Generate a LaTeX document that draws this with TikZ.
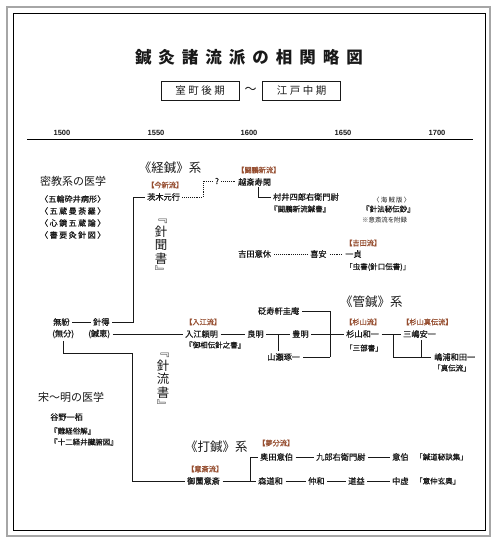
\documentclass[tikz,border=0pt]{standalone}
\usepackage{fontspec}
\newfontfamily\cjk{Noto Sans CJK JP}
\newfontfamily\cjkm[FakeBold=0.6]{Noto Sans CJK JP}
\newfontfamily\ars{Liberation Sans}
\usetikzlibrary{calc}
\definecolor{labc}{RGB}{150,78,48}
\definecolor{ink}{RGB}{25,25,25}
\begin{document}
\begin{tikzpicture}[x=1pt,y=-1pt,
  every node/.style={inner sep=0pt, text=ink, font=\cjk},
  nm/.style={anchor=west, font=\cjkm\fontsize{8.2}{9}\selectfont},
  lab/.style={anchor=west, text=labc, font=\cjkm\fontsize{7.2}{8}\selectfont},
  bk/.style={anchor=west, font=\cjkm\fontsize{7.5}{8}\selectfont},
  sm/.style={anchor=west, font=\cjk\fontsize{6.4}{7}\selectfont},
  sys/.style={anchor=west, font=\cjk\fontsize{12.5}{14}\selectfont},
  hd/.style={anchor=west, font=\cjk\fontsize{11}{12}\selectfont},
  yr/.style={font=\ars\bfseries\fontsize{7.5}{8}\selectfont},
  vt/.style={align=center, font=\cjk\fontsize{12.5}{13.6}\selectfont},
  per/.style={draw=ink, line width=0.8pt, minimum width=78pt, minimum height=19pt, font=\cjk\fontsize{10.5}{12}\selectfont},
  wire/.style={draw=ink, line width=0.6pt},
  ln/.style={wire, shorten <=2.5pt, shorten >=2.5pt},
  dot/.style={draw=ink, line width=0.7pt, dash pattern=on 0.7pt off 1.2pt}]
\useasboundingbox (0,0) rectangle (500,543);
\fill[white] (0,0) rectangle (500,543);
% frame
\draw[gray!70, line width=1.3pt] (7,7) rectangle (490,536);
\draw[black, line width=0.8pt] (13,13) rectangle (485,530);
% title
\node[font=\cjk\bfseries\fontsize{16.5}{18}\selectfont] (title) at (249,58)
  {鍼\hspace{7pt}灸\hspace{7pt}諸\hspace{7pt}流\hspace{7pt}派\hspace{7pt}の\hspace{7pt}相\hspace{7pt}関\hspace{7pt}略\hspace{7pt}図};
\node[per] (p1) at (200,90.5) {室\hspace{2.5pt}町\hspace{2.5pt}後\hspace{2.5pt}期};
\node[font=\cjk\fontsize{12}{13}\selectfont] (tl) at (250.5,90) {〜};
\node[per] (p2) at (301.5,90.5) {江\hspace{2.5pt}戸\hspace{2.5pt}中\hspace{2.5pt}期};
% axis
\node[yr] (y1500) at (62,133) {1500};
\node[yr] (y1550) at (156,133) {1550};
\node[yr] (y1600) at (249,133) {1600};
\node[yr] (y1650) at (343,133) {1650};
\node[yr] (y1700) at (437,133) {1700};
\coordinate (axl) at (27,139);
\coordinate (axr) at (473,139);
\draw[black, line width=0.8pt] (axl) -- (axr);
% left column
\node[sys, anchor=center] (kei) at (170,168) {《経鍼》系};
\node[hd] (mik) at (40,181) {密教系の医学};
\node[nm, font=\cjkm\fontsize{8}{9}\selectfont] (g1) at (40,199) {\makebox[65pt][s]{〈\hfill 五\hfill 輪\hfill 砕\hfill 井\hfill 病\hfill 形\hfill 〉}};
\node[nm, font=\cjkm\fontsize{8}{9}\selectfont] (g2) at (40,211) {\makebox[65pt][s]{〈\hfill 五\hfill 蔵\hfill 曼\hfill 荼\hfill 羅\hfill 〉}};
\node[nm, font=\cjkm\fontsize{8}{9}\selectfont] (g3) at (40,223) {\makebox[65pt][s]{〈\hfill 心\hfill 鏡\hfill 五\hfill 蔵\hfill 論\hfill 〉}};
\node[nm, font=\cjkm\fontsize{8}{9}\selectfont] (g4) at (40,235) {\makebox[65pt][s]{〈\hfill 書\hfill 要\hfill 灸\hfill 針\hfill 図\hfill 〉}};
% keishin
\node[lab] (imalab) at (147,185) {【今新流】};
\node[nm] (ibaraki) at (147,197) {茨木元行};
\node[nm, anchor=center] (q) at (217,181) {?};
\coordinate (qa) at (203,181);
\node[lab] (ohlab) at (237,170) {【闘鵬新流】};
\node[nm] (essai) at (238,182) {越斎寿閑};
\node[nm] (murai) at (273,197) {村井四郎右衛門尉};
\node[bk] (murbk) at (270,209) {『闘鵬新流鍼書』};
\node[sm] (kaizoku) at (373,200) {\makebox[37pt][s]{〈\hfill 海\hfill 賊\hfill 版\hfill 〉}};
\node[bk] (shinpo) at (362,209) {『針法秘伝鈔』};
\node[sm] (note) at (362,220) {※意斎流を附録};
\node[lab] (yoshlab) at (345,243) {【吉田流】};
\node[nm] (yoshida) at (238,254) {吉田意休};
\node[nm] (kian) at (310,254) {喜安};
\node[nm] (ittei) at (345,254) {一貞};
\node[bk] (mushi) at (345,267) {「虫書(針口伝書)」};
\node[vt] (shinmon) at (161,248) {﹃\\針\\聞\\書\\﹄};
\draw[dot] ([xshift=2pt]ibaraki.east) -| (qa) -- ([xshift=-2pt]q.west);
\draw[dot] ([xshift=2pt]q.east) -- ([xshift=-2pt]essai.west |- q.east);
\coordinate (ec) at (258,197);
\draw[wire] (ec |- essai.south) ++(0,1.5) |- ([xshift=-2.5pt]murai.west);
\draw[dot, shorten <=3pt, shorten >=3pt] (yoshida) -- (kian);
\draw[dot, shorten <=3pt, shorten >=3pt] (kian) -- (ittei);
% centre
\node[nm] (mufun) at (53,322) {無紛};
\node[nm] (mufunb) at (52,334) {(無分)};
\node[nm] (shintoku) at (93,322) {針得};
\node[nm] (shinkei) at (88,334) {(鍼恵)};
\coordinate (ka) at (133,197);
\draw[ln] (mufun) -- (shintoku);
\draw[wire, shorten <=2.5pt, shorten >=2.5pt] (shintoku.east) -| (ka) -- (ibaraki.west);
\node[lab] (irielab) at (185,322) {【入江流】};
\node[nm] (irie) at (185,334) {入江頼明};
\node[bk] (iriebk) at (185,345) {『御相伝針之書』};
\draw[ln] (shinkei.east) -- (irie.west);
\node[nm] (ryomei) at (247,334) {良明};
\node[nm] (homei) at (292,334) {豊明};
\node[nm] (hen) at (258,311) {砭寿軒圭庵};
\node[nm] (yamase) at (267,357) {山瀬琢一};
\draw[ln] (irie) -- (ryomei);
\draw[ln] (ryomei) -- (homei);
\coordinate (br1) at (278,334);
\draw[wire, shorten >=2pt] (br1) -- (br1 |- yamase.north);
\coordinate (bt) at (330,311);
\coordinate (bb) at (330,357);
\draw[wire, shorten <=3pt] (hen.east) -- (bt) -- (bb);
\draw[wire, shorten <=3pt] (yamase.east) -- (bb);
\node[sys] (kan) at (340,302) {《管鍼》系};
\node[lab] (sugilab) at (345,322) {【杉山流】};
\node[nm] (sugi) at (346,334) {杉山和一};
\node[bk] (sanbu) at (345,348) {「三部書」};
\draw[ln] (homei.east) -- (sugi.west);
\node[lab] (shinlab) at (402,322) {【杉山真伝流】};
\node[nm] (mishima) at (403,334) {三嶋安一};
\node[nm] (shimaura) at (434,357) {嶋浦和田一};
\node[bk] (shinden) at (433,368) {「真伝流」};
\draw[ln] (sugi.east) -- (mishima.west);
\coordinate (s1) at (393,334);
\draw[wire, shorten >=3pt] (s1) |- (shimaura.west);
\coordinate (s2) at (421,357);
\draw[wire, shorten <=2pt] (s2 |- mishima.south) -- (s2);
% lower
\node[vt] (shinryu) at (163,382) {﹃\\針\\流\\書\\﹄};
\node[hd] (so) at (38,397) {宋〜明の医学};
\node[nm] (tanino) at (50,417) {谷野一栢};
\node[bk] (nan) at (50,431) {『難経俗解』};
\node[bk] (juni) at (50,442) {『十二経井臓腑図』};
\node[sys] (da) at (185,447) {《打鍼》系};
\node[lab] (isailab) at (187,469) {【意斎流】};
\node[nm] (misono) at (187,481) {御薗意斎};
\coordinate (d1) at (132,353);
\draw[wire, shorten <=2.5pt, shorten >=2.5pt] (mufunb.south) |- (d1) |- (misono.west);
\node[lab] (mublab) at (258,443) {【夢分流】};
\node[nm] (okuda) at (260,457) {奥田意伯};
\node[nm] (kuro) at (316,457) {九郎右衛門尉};
\node[nm] (ihaku) at (392,457) {意伯};
\node[bk] (shindo) at (415,457) {「鍼道秘訣集」};
\node[nm] (mori) at (258,481) {森道和};
\node[nm] (chuwa) at (308,481) {仲和};
\node[nm] (doeki) at (348,481) {道益};
\node[nm] (chukyo) at (392,481) {中虚};
\node[bk] (ichu) at (415,481) {「意仲玄奥」};
\draw[ln] (misono) -- (mori);
\coordinate (m1) at (250,481);
\draw[wire, shorten >=2.5pt] (m1) |- (okuda.west);
\draw[ln] (okuda) -- (kuro);
\draw[ln] (kuro) -- (ihaku);
\draw[ln] (mori) -- (chuwa);
\draw[ln] (chuwa) -- (doeki);
\draw[ln] (doeki) -- (chukyo);
\end{tikzpicture}
\end{document}
